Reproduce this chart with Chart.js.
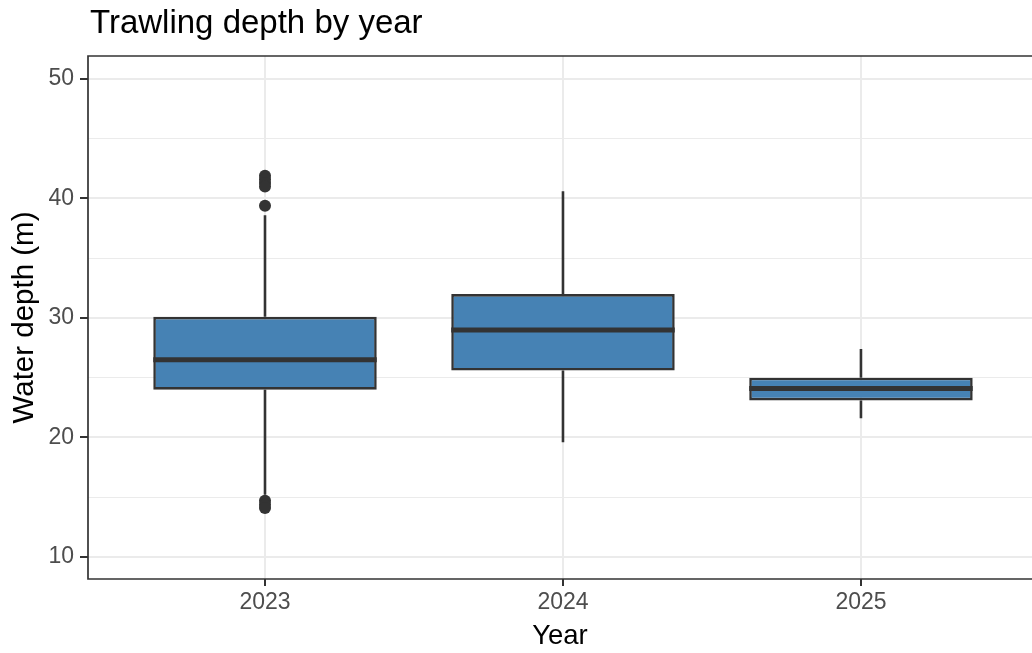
<!DOCTYPE html>
<html>
<head>
<meta charset="utf-8">
<title>Trawling depth by year</title>
<script src="https://cdn.jsdelivr.net/npm/chart.js@4.4.0/dist/chart.umd.min.js"></script>
<style>
    body { margin: 0; background: #ffffff; overflow: hidden; }
    #wrap { width: 1032px; height: 653px; }
</style>
</head>
<body>
<div id="wrap"><canvas id="depthChart" width="1032" height="653"></canvas></div>
<script>
// box statistics per year
const years = ['2023', '2024', '2025'];
const whiskerLow = [15.2, 19.6, 21.6];
const q1 = [24.0, 25.6, 23.1];
const medians = [26.5, 29.0, 24.1];
const q3 = [30.1, 32.0, 25.0];
const whiskerHigh = [38.6, 40.6, 27.4];

// outlying hauls
const outlierYears = ['2023', '2023', '2023', '2023', '2023', '2023', '2023', '2023'];
const outlierDepths = [41.9, 41.6, 41.3, 41.0, 39.4, 14.7, 14.4, 14.1];

const yTicks = [10, 15, 20, 25, 30, 35, 40, 45, 50];

const FONT = "'Liberation Sans', Arial, Helvetica, sans-serif";
const INK = '#333333';

// whiskers under the boxes, medians and panel border on top
const boxExtras = {
    id: 'boxExtras',
    beforeDatasetsDraw(chart) {
        const { ctx, scales: { x, y } } = chart;
        ctx.save();
        ctx.strokeStyle = INK;
        ctx.lineWidth = 2.6;
        years.forEach((yr, i) => {
            const px = x.getPixelForValue(i + 1);
            ctx.beginPath();
            ctx.moveTo(px, y.getPixelForValue(q3[i]));
            ctx.lineTo(px, y.getPixelForValue(whiskerHigh[i]));
            ctx.moveTo(px, y.getPixelForValue(q1[i]));
            ctx.lineTo(px, y.getPixelForValue(whiskerLow[i]));
            ctx.stroke();
        });
        ctx.restore();
    },
    afterDatasetsDraw(chart) {
        const { ctx, chartArea, scales: { x, y } } = chart;
        const bars = chart.getDatasetMeta(0).data;
        ctx.save();
        ctx.strokeStyle = INK;
        ctx.lineWidth = 5;
        years.forEach((yr, i) => {
            const px = x.getPixelForValue(i + 1);
            const half = bars[i].width / 2;
            const py = y.getPixelForValue(medians[i]);
            ctx.beginPath();
            ctx.moveTo(px - half, py);
            ctx.lineTo(px + half, py);
            ctx.stroke();
        });

        // panel border (right side falls outside the picture)
        ctx.lineWidth = 1.7;
        ctx.beginPath();
        ctx.moveTo(chartArea.right + 2, chartArea.top);
        ctx.lineTo(chartArea.left, chartArea.top);
        ctx.lineTo(chartArea.left, chartArea.bottom);
        ctx.lineTo(chartArea.right + 2, chartArea.bottom);
        ctx.stroke();

        // plot title
        ctx.fillStyle = '#000000';
        ctx.font = `33px ${FONT}`;
        ctx.textAlign = 'left';
        ctx.textBaseline = 'alphabetic';
        ctx.fillText('Trawling depth by year', chartArea.left + 2, 33);
        ctx.restore();
    }
};

const ctx = document.getElementById('depthChart').getContext('2d');

new Chart(ctx, {
    type: 'bar',
    data: {
        datasets: [
            {
                label: 'Water depth',
                data: years.map((yr, i) => ({ x: i + 1, y: [q1[i], q3[i]] })),
                backgroundColor: '#4682B4',
                borderColor: INK,
                borderWidth: 2.6,
                borderSkipped: false,
                categoryPercentage: 1,
                barPercentage: 0.75
            },
            {
                type: 'scatter',
                label: 'Outliers',
                data: outlierDepths.map((d, i) => ({ x: years.indexOf(outlierYears[i]) + 1, y: d })),
                backgroundColor: INK,
                borderWidth: 0,
                pointRadius: 6
            }
        ]
    },
    options: {
        responsive: false,
        animation: false,
        devicePixelRatio: 1,
        events: [],
        layout: { autoPadding: false, padding: { top: 56, right: 0, bottom: 0, left: 0 } },
        plugins: {
            legend: { display: false },
            tooltip: { enabled: false },
            title: { display: false }
        },
        scales: {
            x: {
                type: 'linear',
                min: 0.406,
                max: 3.574,
                offset: false,
                afterBuildTicks: (scale) => {
                    scale.ticks = years.map((yr, i) => ({ value: i + 1 }));
                },
                afterFit: (scale) => { scale.height = 74; },
                grid: {
                    offset: false,
                    color: '#ebebeb',
                    lineWidth: 2,
                    tickLength: 7,
                    tickColor: INK,
                    tickWidth: 2
                },
                border: { display: false },
                ticks: {
                    padding: 3,
                    color: '#4d4d4d',
                    font: { family: FONT, size: 23 },
                    maxRotation: 0,
                    callback: (v) => years[v - 1]
                },
                title: {
                    display: true,
                    text: 'Year',
                    color: '#000000',
                    font: { family: FONT, size: 27.5 },
                    padding: { top: 0, bottom: 0 }
                }
            },
            y: {
                min: 8.16,
                max: 51.92,
                afterBuildTicks: (scale) => {
                    scale.ticks = yTicks.map(v => ({ value: v }));
                },
                afterFit: (scale) => { scale.width = 88; },
                grid: {
                    color: '#ebebeb',
                    lineWidth: (c) => (c.tick && c.tick.value % 10 === 0 ? 2 : 1),
                    tickLength: 8,
                    tickColor: (c) => (c.tick && c.tick.value % 10 === 0 ? INK : 'rgba(0,0,0,0)'),
                    tickWidth: 2
                },
                border: { display: false },
                ticks: {
                    padding: 6,
                    color: '#4d4d4d',
                    font: { family: FONT, size: 23 },
                    callback: (v) => (v % 10 === 0 ? String(v) : '')
                },
                title: {
                    display: true,
                    text: 'Water depth (m)',
                    color: '#000000',
                    font: { family: FONT, size: 29.5 },
                    padding: { top: 7, bottom: 0 }
                }
            }
        }
    },
    plugins: [boxExtras]
});
</script>
</body>
</html>
